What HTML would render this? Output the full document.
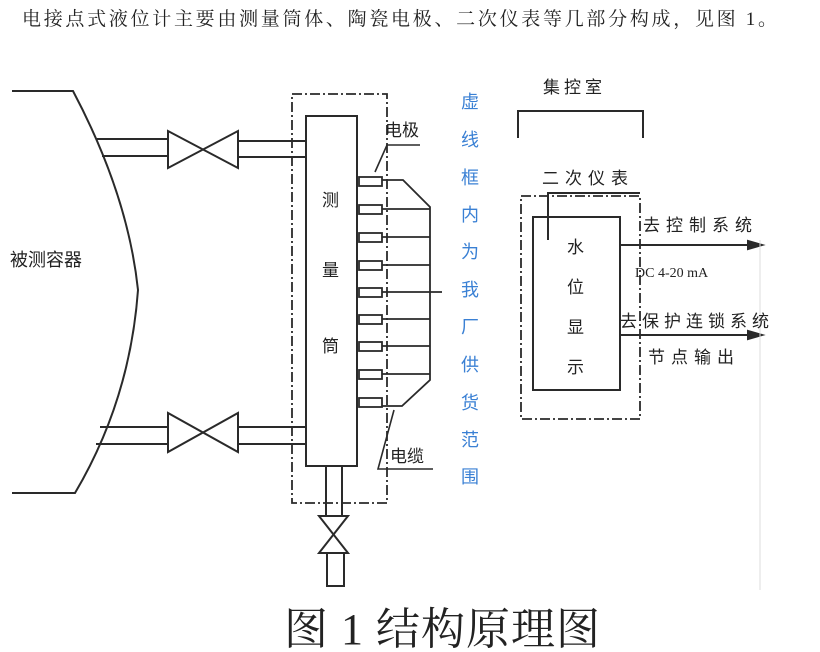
<!DOCTYPE html>
<html><head><meta charset="utf-8"><style>
html,body{margin:0;padding:0;background:#fff;width:820px;height:652px;overflow:hidden}
svg{display:block}
text{font-family:"Liberation Serif","Noto Serif CJK SC","Noto Sans CJK SC",serif;fill:#222}
.s{font-family:"Liberation Sans","Noto Sans CJK SC",sans-serif}
</style></head><body>
<svg width="820" height="652" viewBox="0 0 820 652" xmlns="http://www.w3.org/2000/svg">
<g stroke="#2a2a2a" stroke-width="2" fill="none">
<!-- vessel -->
<path d="M12 91 H73 Q128 195 138 290 Q130 400 75 493 H12"/>
<!-- top pipe -->
<path d="M97 139 H168 M102 156 H168"/>
<path d="M168 131 V168 L238 131 V168 Z" fill="#fff"/>
<path d="M238 141 H306 M238 157 H306"/>
<!-- bottom pipe -->
<path d="M100 427 H168 M96 444 H168"/>
<path d="M168 413 V452 L238 413 V452 Z" fill="#fff"/>
<path d="M238 427 H306 M238 444 H306"/>
<!-- column -->
<rect x="306" y="116" width="51" height="350"/>
<path d="M326 466 V518 M342 466 V518"/>
<path d="M319 516 H348 L319 553 H348 Z" fill="#fff"/>
<path d="M327 553 V586 H344 V553"/>
<!-- dashed box left -->
<rect x="292" y="94" width="95" height="409" stroke-dasharray="10,3,2,3" stroke-width="1.8"/>
<!-- electrodes -->
<g stroke-width="1.8">
<rect x="359" y="177" width="23" height="9"/><rect x="359" y="205" width="23" height="9"/>
<rect x="359" y="233" width="23" height="9"/><rect x="359" y="261" width="23" height="9"/>
<rect x="359" y="288" width="23" height="9"/><rect x="359" y="315" width="23" height="9"/>
<rect x="359" y="342" width="23" height="9"/><rect x="359" y="370" width="23" height="9"/>
<rect x="359" y="398" width="23" height="9"/>
<path d="M382 180 H403 L430 207 V380 L402 406 H382"/>
<path d="M382 209 H430 M382 237 H430 M382 265 H430 M382 292 H442 M382 319 H430 M382 346 H430 M382 374 H430"/>
</g>
<path d="M420 145 H387 L375 172" stroke-width="1.6"/>
<path d="M394 410 L378 469 H433" stroke-width="1.6"/>
<!-- right part -->
<path d="M518 138 V111 H643 V138"/>
<rect x="521" y="196" width="119" height="223" stroke-dasharray="10,3,2,3" stroke-width="1.8"/>
<rect x="533" y="217" width="87" height="173"/>
<path d="M548 240 V193 H640"/>
<path d="M620 245 H752 M620 335 H752"/>
<path d="M748 241 L762 245 L748 249 Z M748 331 L762 335 L748 339 Z" fill="#2a2a2a"/>
<path d="M760 240 V590" stroke="#ddd" stroke-width="1"/>
</g>
<text x="22" y="25" font-size="19" textLength="755" lengthAdjust="spacing">电接点式液位计主要由测量筒体、陶瓷电极、二次仪表等几部分构成，见图 1。</text>
<g class="s" font-size="17">
<text x="10" y="266" class="s" font-size="18">被测容器</text>
<text x="322" y="206" class="s">测</text>
<text x="322" y="276" class="s">量</text>
<text x="322" y="352" class="s">筒</text>
<text x="385" y="136" class="s">电极</text>
<text x="390" y="462" class="s">电缆</text>
<text x="543" y="93" class="s" letter-spacing="4">集控室</text>
<text x="542" y="184" class="s" letter-spacing="6">二次仪表</text>
<text x="567" y="253" class="s">水</text>
<text x="567" y="293" class="s">位</text>
<text x="567" y="333" class="s">显</text>
<text x="567" y="373" class="s">示</text>
<text x="643" y="231" class="s" letter-spacing="6">去控制系统</text>
<text x="620" y="327" class="s" letter-spacing="5">去保护连锁系统</text>
<text x="648" y="363" class="s" letter-spacing="6">节点输出</text>
</g>
<text x="635" y="277" font-size="14" font-family="Liberation Mono,monospace">DC 4-20 mA</text>
<g class="s" font-size="18">
<text x="461" y="108" class="s" style="fill:#3a80d4">虚</text>
<text x="461" y="146" class="s" style="fill:#3a80d4">线</text>
<text x="461" y="184" class="s" style="fill:#3a80d4">框</text>
<text x="461" y="221" class="s" style="fill:#3a80d4">内</text>
<text x="461" y="258" class="s" style="fill:#3a80d4">为</text>
<text x="461" y="296" class="s" style="fill:#3a80d4">我</text>
<text x="461" y="333" class="s" style="fill:#3a80d4">厂</text>
<text x="461" y="371" class="s" style="fill:#3a80d4">供</text>
<text x="461" y="409" class="s" style="fill:#3a80d4">货</text>
<text x="461" y="446" class="s" style="fill:#3a80d4">范</text>
<text x="461" y="483" class="s" style="fill:#3a80d4">围</text>
</g>
<text x="284" y="644" font-size="44" textLength="316" lengthAdjust="spacing">图 1 结构原理图</text>
</svg>
</body></html>
